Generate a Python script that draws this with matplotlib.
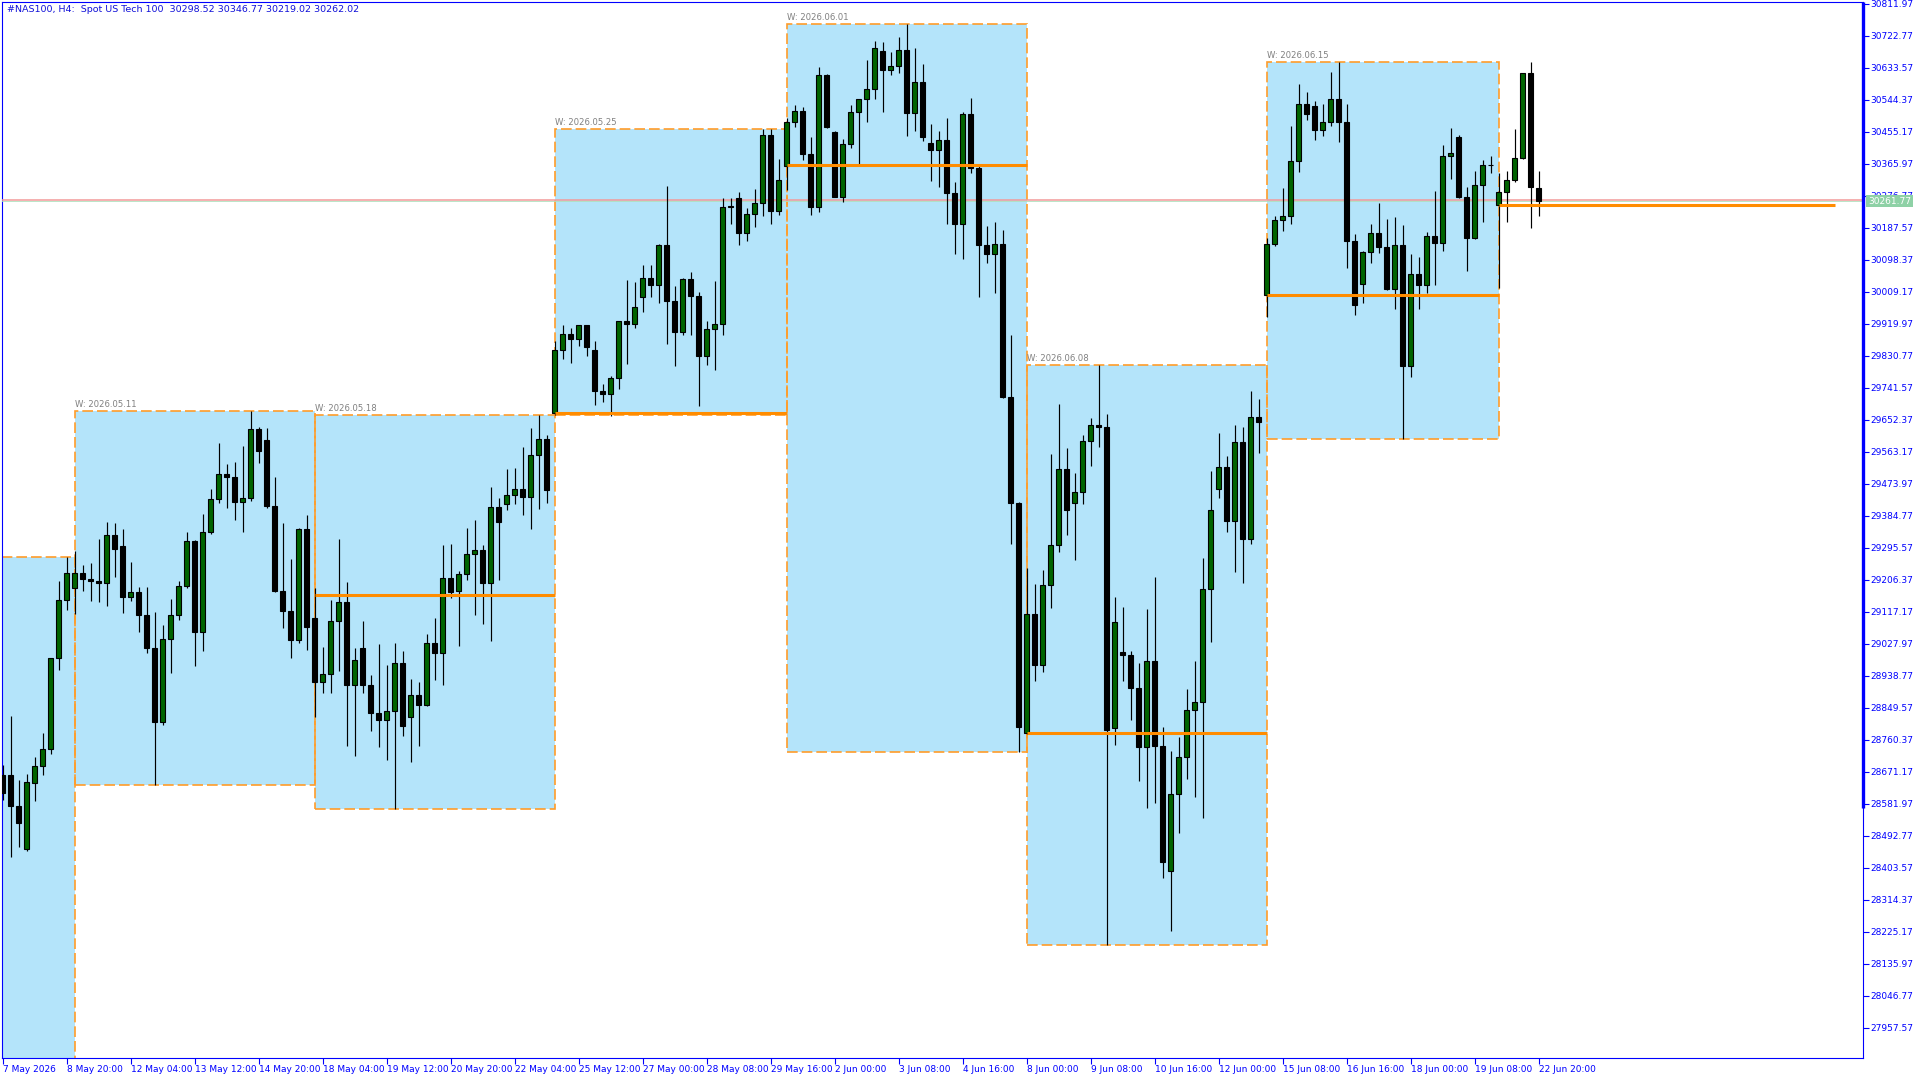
import matplotlib
matplotlib.use('Agg')

import matplotlib.pyplot as plt
import matplotlib.transforms as mtransforms
from matplotlib import font_manager
from matplotlib.patches import Rectangle

# H4 candles, one bar every 4 hours (bar index 0 = 7 May 2026 12:00)
opens = [28662, 28662, 28576, 28456, 28641, 28687, 28734, 28988, 29149, 29184,
         29225, 29208, 29202, 29196, 29330, 29300, 29159, 29172, 29109, 29017,
         28811, 29040, 29107, 29188, 29313, 29061, 29338, 29431, 29501, 29494,
         29424, 29433, 29627, 29597, 29413, 29176, 29120, 29039, 29348, 29099,
         28922, 28943, 29090, 29143, 28914, 29015, 28914, 28836, 28816, 28840,
         28973, 28825, 28884, 28858, 29029, 29003, 29212, 29176, 29222, 29277,
         29290, 29196, 29408, 29418, 29443, 29458, 29438, 29553, 29598, 29670,
         29846, 29890, 29877, 29915, 29846, 29733, 29725, 29768, 29927, 29920,
         29995, 30047, 30027, 30139, 29984, 29898, 30045, 29998, 29831, 29904,
         29919, 30245, 30270, 30172, 30226, 30256, 30445, 30235, 30360, 30482,
         30512, 30394, 30244, 30612, 30453, 30274, 30420, 30509, 30545, 30573,
         30679, 30628, 30638, 30682, 30506, 30594, 30424, 30403, 30433, 30285,
         30198, 30505, 30355, 30138, 30114, 30142, 29717, 29420, 28780, 29111,
         28969, 29192, 29304, 29516, 29420, 29451, 29593, 29638, 29633, 28792,
         29005, 28997, 28905, 28739, 28981, 28742, 28393, 28608, 28712, 28843,
         28865, 29180, 29459, 29521, 29369, 29590, 29319, 29660, 29999, 30142,
         30208, 30219, 30373, 30532, 30526, 30459, 30481, 30546, 30481, 30150,
         30030, 30120, 30172, 30133, 30018, 30139, 29803, 30058, 30029, 30164,
         30144, 30387, 30440, 30274, 30160, 30306, 30362, 30250, 30286, 30320,
         30381, 30618, 30298.52]
highs = [28690, 28826, 28648, 28665, 28713, 28780, 28988, 29204, 29269, 29286,
         29247, 29252, 29320, 29367, 29364, 29348, 29257, 29186, 29186, 29116,
         29080, 29153, 29203, 29338, 29316, 29390, 29459, 29587, 29529, 29535,
         29579, 29677, 29633, 29629, 29493, 29364, 29264, 29351, 29387, 29184,
         29019, 29150, 29320, 29199, 29015, 29091, 28941, 29027, 28969, 29030,
         29007, 28930, 28921, 29055, 29100, 29303, 29306, 29231, 29351, 29373,
         29303, 29465, 29435, 29515, 29518, 29576, 29629, 29666, 29610, 29872,
         29916, 29907, 29916, 29917, 29872, 29751, 29774, 29928, 30042, 30036,
         30084, 30084, 30143, 30304, 30024, 30047, 30064, 30008, 29928, 30039,
         30270, 30271, 30287, 30243, 30296, 30462, 30462, 30379, 30492, 30529,
         30525, 30439, 30635, 30617, 30457, 30436, 30529, 30545, 30656, 30709,
         30704, 30676, 30719, 30755, 30689, 30644, 30478, 30457, 30492, 30314,
         30509, 30548, 30365, 30192, 30203, 30180, 29888, 29422, 29239, 29194,
         29233, 29557, 29697, 29574, 29505, 29611, 29656, 29805, 29669, 29159,
         29131, 29008, 28974, 29126, 29214, 28796, 28729, 28768, 28901, 28980,
         29268, 29510, 29614, 29552, 29637, 29631, 29732, 29709, 30159, 30221,
         30298, 30471, 30588, 30565, 30541, 30532, 30622, 30649, 30532, 30169,
         30124, 30197, 30256, 30211, 30217, 30194, 30114, 30105, 30175, 30290,
         30418, 30465, 30445, 30302, 30345, 30376, 30387, 30341, 30345, 30462,
         30620, 30649, 30346.77]
lows = [28592, 28434, 28462, 28451, 28590, 28662, 28720, 28955, 29122, 29111,
        29176, 29148, 29145, 29134, 29214, 29114, 29148, 29061, 29002, 28634,
        28801, 28947, 29095, 29182, 28967, 29007, 29333, 29421, 29407, 29374,
        29340, 29426, 29533, 29407, 29173, 29073, 28987, 29029, 29010, 28825,
        28891, 28891, 28952, 28744, 28716, 28891, 28786, 28741, 28705, 28566,
        28772, 28699, 28744, 28855, 28927, 28914, 29155, 29022, 29206, 29108,
        29084, 29036, 29206, 29402, 29418, 29387, 29349, 29404, 29421, 29666,
        29822, 29811, 29859, 29831, 29692, 29703, 29664, 29738, 29808, 29907,
        29953, 29993, 29979, 29862, 29803, 29889, 29889, 29691, 29806, 29791,
        29889, 30199, 30139, 30151, 30190, 30221, 30197, 30224, 30293, 30469,
        30376, 30224, 30231, 30465, 30272, 30260, 30410, 30366, 30481, 30545,
        30509, 30612, 30619, 30443, 30456, 30428, 30317, 30302, 30198, 30113,
        30101, 30341, 29995, 30089, 30005, 29713, 29307, 28727, 28775, 28923,
        28950, 29127, 29283, 29332, 29260, 29416, 29523, 29575, 28187, 28746,
        28924, 28815, 28646, 28571, 28583, 28374, 28228, 28499, 28652, 28602,
        28543, 29034, 29433, 29340, 29227, 29198, 29306, 29559, 29940, 30137,
        30179, 30199, 30344, 30489, 30431, 30444, 30471, 30426, 30076, 29945,
        29979, 30088, 30116, 30015, 29960, 29599, 29771, 29960, 30005, 30029,
        30124, 30324, 30271, 30068, 30157, 30204, 30339, 30019, 30204, 30316,
        30378, 30186, 30219.02]
closes = [28611, 28576, 28529, 28642, 28687, 28734, 28987, 29149, 29225, 29225,
          29208, 29202, 29196, 29330, 29293, 29159, 29172, 29109, 29017, 28811,
          29040, 29107, 29188, 29313, 29061, 29338, 29431, 29501, 29494, 29424,
          29433, 29627, 29566, 29413, 29176, 29120, 29039, 29348, 29075, 28922,
          28943, 29090, 29143, 28914, 28982, 28914, 28836, 28816, 28840, 28973,
          28799, 28884, 28858, 29029, 29003, 29212, 29173, 29222, 29277, 29289,
          29196, 29408, 29368, 29443, 29458, 29438, 29553, 29598, 29457, 29846,
          29890, 29877, 29915, 29856, 29733, 29725, 29768, 29927, 29920, 29966,
          30047, 30027, 30139, 29984, 29898, 30045, 29998, 29831, 29904, 29919,
          30245, 30248, 30172, 30226, 30256, 30445, 30235, 30320, 30482, 30512,
          30394, 30244, 30612, 30468, 30274, 30420, 30509, 30545, 30573, 30688,
          30628, 30638, 30682, 30506, 30594, 30439, 30403, 30433, 30285, 30198,
          30505, 30355, 30138, 30114, 30142, 29717, 29420, 28797, 29111, 28969,
          29192, 29304, 29516, 29402, 29451, 29593, 29638, 29633, 28788, 29088,
          28997, 28905, 28739, 28981, 28742, 28420, 28608, 28712, 28843, 28865,
          29180, 29400, 29521, 29369, 29590, 29319, 29660, 29647, 30142, 30208,
          30219, 30373, 30532, 30504, 30459, 30481, 30546, 30481, 30150, 29973,
          30120, 30172, 30133, 30018, 30139, 29803, 30058, 30029, 30164, 30144,
          30387, 30395, 30274, 30160, 30306, 30362, 30362, 30286, 30320, 30381,
          30618, 30300, 30262.02]

# weekly boxes (bar index of first bar and of next week's first bar)
week_names = ['2026.05.04', '2026.05.11', '2026.05.18', '2026.05.25',
              '2026.06.01', '2026.06.08', '2026.06.15', '2026.06.22']
week_start = [-21, 9, 39, 69, 98, 128, 158, 187]
week_end = [9, 39, 69, 98, 128, 158, 187, 229]
week_high = [29269, 29677, 29666, 30462, 30755, 29805, 30649, None]
week_low = [27700, 28634, 28566, 29666, 28727, 28187, 29599, None]
week_open = [None, None, 29164, 29670, 30361, 28779, 29999, 30250]

# price axis labels
price_top = 30811.97
price_step = 89.2
n_price_ticks = 33

# time axis labels, one every 8 bars
time_labels = ['7 May 2026', '8 May 20:00', '12 May 04:00', '13 May 12:00',
               '14 May 20:00', '18 May 04:00', '19 May 12:00', '20 May 20:00',
               '22 May 04:00', '25 May 12:00', '27 May 00:00', '28 May 08:00',
               '29 May 16:00', '2 Jun 00:00', '3 Jun 08:00', '4 Jun 16:00',
               '8 Jun 00:00', '9 Jun 08:00', '10 Jun 16:00', '12 Jun 00:00',
               '15 Jun 08:00', '16 Jun 16:00', '18 Jun 00:00', '19 Jun 08:00',
               '22 Jun 20:00']

bid = 30261.77
ask = 30265.0
header = '#NAS100, H4:  Spot US Tech 100  30298.52 30346.77 30219.02 30262.02'

# font: narrow sans if it is there
names = {f.name for f in font_manager.fontManager.ttflist}
if 'Liberation Sans Narrow' in names:
    FONT, FS, FS_W = 'Liberation Sans Narrow', 8.3, 7.8
else:
    FONT, FS, FS_W = 'DejaVu Sans', 6.5, 6.1
plt.rcParams['font.family'] = [FONT, 'DejaVu Sans']

BLUE = '#0000FF'
XMIN, XMAX = -0.0625, 232.56
fig = plt.figure(figsize=(19.2, 10.8), dpi=100)
ax = fig.add_axes([2 / 1920, 22 / 1080, 1861 / 1920, 1056 / 1080])
ax.set_xlim(XMIN, XMAX)
ax.set_ylim(27873.1, 30816.7)

# week boxes
lab_tr = mtransforms.offset_copy(ax.transData, fig=fig, y=2, units='dots')
for name, s, e, hi, lo in zip(week_names, week_start, week_end, week_high, week_low):
    if hi is None:
        continue
    ax.add_patch(Rectangle((s, lo), e - s, hi - lo, facecolor='#B4E4FA',
                           edgecolor='none', zorder=1))
    ax.add_patch(Rectangle((s, lo), e - s, hi - lo, fill=False,
                           edgecolor='#FF9C2A', lw=1.2,
                           linestyle=(0, (6.4, 2.4)), zorder=2))
    if s >= XMIN:
        ax.text(s, hi, 'W: ' + name, transform=lab_tr, ha='left', va='bottom',
                fontsize=FS_W, color='#808080', zorder=2)

# bid / ask lines
ax.axhline(bid, color='#B0E0BE', lw=0.6, zorder=3)
ax.axhline(ask, color='#F29A9A', lw=1.1, zorder=3)

# candles
x = list(range(len(opens)))
ax.vlines(x, lows, highs, color='black', lw=0.85, zorder=4)
bottoms = [min(o, c) for o, c in zip(opens, closes)]
heights = [abs(c - o) for o, c in zip(opens, closes)]
colors = ['#006400' if c > o else 'black' for o, c in zip(opens, closes)]
ax.bar(x, heights, bottom=bottoms, width=0.56, color=colors,
       edgecolor='black', linewidth=0.8, zorder=5)

# weekly open levels
for s, e, wo in zip(week_start, week_end, week_open):
    if wo is not None:
        ax.hlines(wo, s, e, color='#FF8C00', lw=2.2, zorder=6)

# axes styling
for sp in ax.spines.values():
    sp.set_color(BLUE)
    sp.set_linewidth(0.8)
ax.yaxis.tick_right()
yt = [price_top - price_step * k for k in range(n_price_ticks)]
ax.set_yticks(yt)
ax.set_yticklabels(['%.2f' % v for v in yt])
ax.set_xticks(range(0, 8 * len(time_labels), 8))
ax.set_xticklabels(time_labels)
for lab in ax.get_xticklabels():
    lab.set_horizontalalignment('left')
ax.tick_params(axis='both', direction='out', length=4, width=0.8, color=BLUE,
               labelcolor=BLUE, labelsize=FS, pad=1)

# thick part of the price scale
blend = mtransforms.blended_transform_factory(ax.transAxes, ax.transData)
ax.plot([1, 1], [28570, 30816.7], transform=blend, color=BLUE, lw=2.4,
        clip_on=False, solid_capstyle='butt', zorder=8)

# bid label on the price scale
ax.annotate('%.2f' % bid, xy=(1, bid), xycoords=blend, xytext=(5, 0),
            textcoords='offset pixels', ha='left', va='center', fontsize=FS,
            color='white', zorder=10, annotation_clip=False,
            bbox=dict(boxstyle='square,pad=0.2', fc='#8ED1A6', ec='none'))

fig.text(7 / 1920, 1 - 10 / 1080, header, color='#1010D8', fontsize=FS + 0.3,
         ha='left', va='center')

fig.savefig('out.png', dpi=100, facecolor='white')
